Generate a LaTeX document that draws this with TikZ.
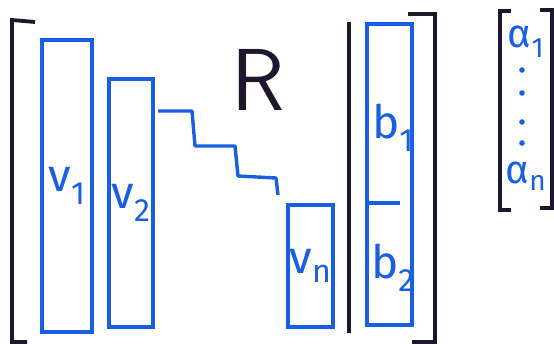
\documentclass[tikz,border=0pt]{standalone}
\usepackage{fontspec}
\setmainfont{Fira Sans}
\usepackage{xcolor}
\definecolor{penBlue}{RGB}{25, 95, 225}
\definecolor{penBlack}{RGB}{30, 22, 45}
\usetikzlibrary{positioning}

\begin{document}
\begin{tikzpicture}[x=1pt, y=-1pt,
  col/.style={rectangle, draw=penBlue, line width=3.4pt, inner sep=0pt,
              text=penBlue, font=\fontsize{46}{46}\selectfont},
  lbl/.style={text=penBlue, inner sep=0pt, font=\fontsize{46}{46}\selectfont},
  coef/.style={text=penBlue, inner sep=0pt, font=\fontsize{40}{40}\selectfont},
  brk/.style={draw=penBlack, line width=3.8pt},
  stair/.style={draw=penBlue, line width=3.4pt, line join=round},
]
  \useasboundingbox (0,0) rectangle (554,344);

  % columns of the matrix
  \node[col, minimum width=50pt, minimum height=292pt] (v1) at (67,186) {v\textsubscript{1}};
  \node[col, minimum width=44pt, minimum height=248pt] (v2) at (131,203) {v\textsubscript{2}};
  \node[col, minimum width=45pt, minimum height=122pt] (vn) at (310.5,266) {v\textsubscript{n}};
  \node[col, minimum width=45pt, minimum height=301pt] (b) at (389.5,174.5) {};
  \node[lbl] (b1) at (393,128) {b\textsubscript{1}};
  \node[lbl] (b2) at (393,268) {b\textsubscript{2}};
  \draw[draw=penBlue, line width=3.4pt] (b.west |- 0,203) -- (400,203);
  \node[text=penBlack, inner sep=0pt, font=\sffamily\fontsize{88}{88}\selectfont] (R) at (258,80) {R};

  % staircase
  \draw[stair] (158,111) -- ++(34,0) -- ++(3,35) -- ++(40,0) -- ++(3,30)
    -- ++(38,2) -- ++(2,17);

  % augmented bar and brackets
  \draw[brk] (349,22) -- (349,333);
  \draw[brk] (35,22) -- (12,20) -- (12,342) -- (27,342);
  \draw[brk] (408,14) -- (435,14) -- (435,342) -- (412,342);

  % coefficient vector
  \node[coef] (a1) at (526,42) {α\textsubscript{1}};
  \node[coef] (an) at (526,176) {α\textsubscript{n}};
  \foreach \y in {70,93,122,143}
    \fill[penBlue] (522,\y) circle (2.8pt);
  \draw[brk] (511,11) -- (500,11) -- (500,210) -- (511,210);
  \draw[brk] (540,10) -- (552,10) -- (552,208) -- (540,208);
\end{tikzpicture}
\end{document}
